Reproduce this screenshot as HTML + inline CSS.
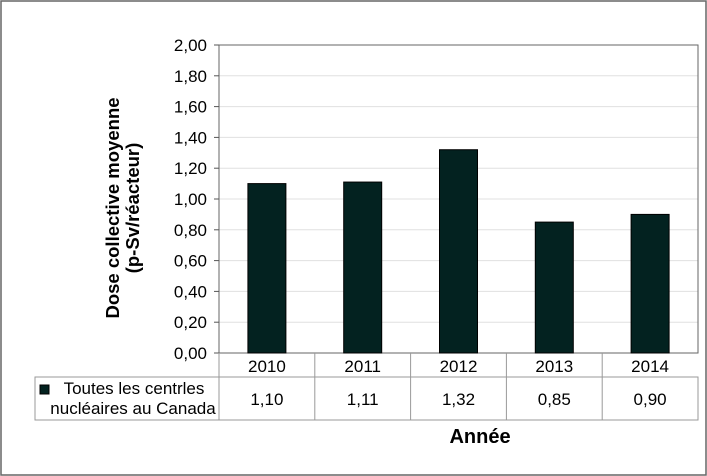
<!DOCTYPE html>
<html><head><meta charset="utf-8"><style>
body{margin:0;background:#fff;font-family:"Liberation Sans",sans-serif}
svg{display:block}
</style></head><body>
<svg width="707" height="476" font-family="Liberation Sans, sans-serif">
<rect x="1" y="1" width="705" height="474" fill="#fff" stroke="#666" stroke-width="1.5"/>
<g id="grid"></g><g id="bars"></g><g id="yticks"></g><g id="table"></g>
<text transform="translate(119,208) rotate(-90)" text-anchor="middle" font-size="18.5" font-weight="bold"><tspan x="0" dy="0">Dose collective moyenne</tspan><tspan x="0" dy="20">(p-Sv/réacteur)</tspan></text>
<text x="480" y="443" text-anchor="middle" font-size="20" font-weight="bold">Année</text>
</svg>
<script>
const categories=["2010","2011","2012","2013","2014"];
const values=[1.10,1.11,1.32,0.85,0.90];
const valueLabels=["1,10","1,11","1,32","0,85","0,90"];
const yTicks=[0,0.2,0.4,0.6,0.8,1.0,1.2,1.4,1.6,1.8,2.0];
const NS="http://www.w3.org/2000/svg";
const L=219,R=698,T=45,B=353,yMax=2;
const y=v=>B-(v/yMax)*(B-T);
const bw=(R-L)/categories.length;
const x=i=>L+bw*i;
function mk(tag,attrs,parent,text){const e=document.createElementNS(NS,tag);for(const k in attrs)e.setAttribute(k,attrs[k]);if(text!==undefined)e.textContent=text;document.getElementById(parent).appendChild(e);return e;}
yTicks.forEach(t=>{
  if(t>0&&t<yMax){const g=mk('line',{x1:L,x2:R,y1:y(t),y2:y(t),stroke:'#e0e0e0'},'grid');
  
  }
  const tk=mk('line',{x1:L-5,x2:L,y1:y(t),y2:y(t),stroke:'#555'},'yticks');
  
  
  const lb=mk('text',{x:207,y:y(t)+6,'text-anchor':'end','font-size':17},'yticks',t.toFixed(2).replace('.',','));
  
  
});
const fr=mk('rect',{x:L,y:T,width:R-L,height:B-T,fill:'none',stroke:'#666'},'grid');


values.forEach((v,i)=>{
  const r=mk('rect',{x:x(i)+bw/2-19,y:y(v),width:38,height:B-y(v),fill:'#032220',stroke:'#000'},'bars');
  
  
});
const r1=377,r2=420,TL=35;
mk('rect',{x:TL,y:r1,width:R-TL,height:r2-r1,fill:'none',stroke:'#999'},'table');
mk('line',{x1:L,x2:L,y1:B,y2:r2,stroke:'#999'},'table');
categories.forEach((c,i)=>{
  if(i>0){const s=mk('line',{x1:x(i),x2:x(i),y1:B,y2:r2,stroke:'#999'},'table');
  
  }
  const a=mk('text',{x:x(i)+bw/2,y:372,'text-anchor':'middle','font-size':17},'table',c);
  
  
  const b=mk('text',{x:x(i)+bw/2,y:405,'text-anchor':'middle','font-size':17},'table',valueLabels[i]);
  
  
});
const sw=mk('rect',{x:40,y:385,width:9,height:9,fill:'#032220',stroke:'#000'},'table');


const l1=mk('text',{x:134,y:394,'text-anchor':'middle','font-size':17},'table','Toutes les centrles');


const l2=mk('text',{x:133,y:414,'text-anchor':'middle','font-size':17},'table','nucléaires au Canada');


</script>
</body></html>
